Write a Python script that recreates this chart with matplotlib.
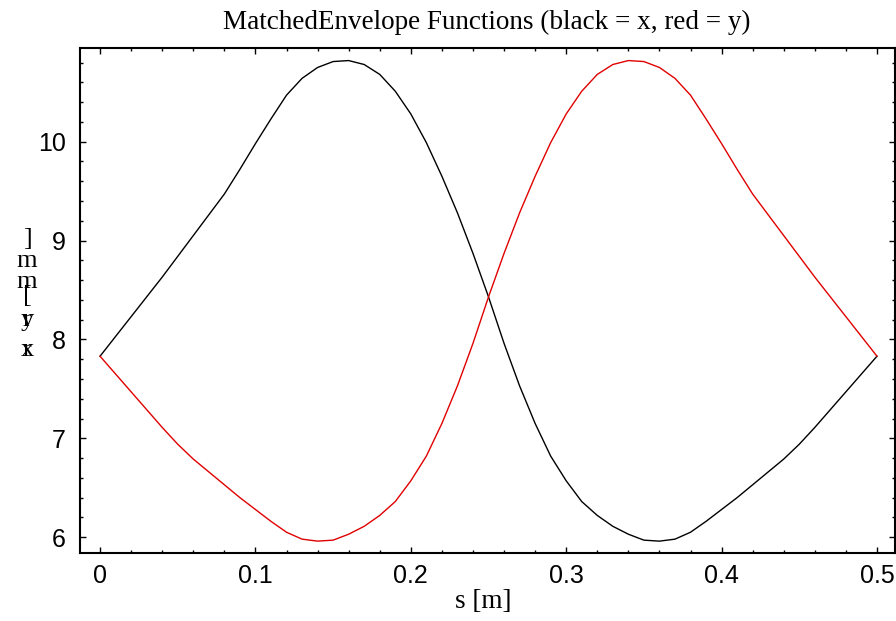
import matplotlib
matplotlib.use("Agg")
import matplotlib.pyplot as plt
from matplotlib.ticker import MultipleLocator

# data
s_vals = [0.00, 0.01, 0.02, 0.03, 0.04, 0.05, 0.06, 0.07, 0.08, 0.09,
          0.10, 0.11, 0.12, 0.13, 0.14, 0.15, 0.16, 0.17, 0.18, 0.19,
          0.20, 0.21, 0.22, 0.23, 0.24, 0.25, 0.26, 0.27, 0.28, 0.29,
          0.30, 0.31, 0.32, 0.33, 0.34, 0.35, 0.36, 0.37, 0.38, 0.39,
          0.40, 0.41, 0.42, 0.43, 0.44, 0.45, 0.46, 0.47, 0.48, 0.49, 0.50]
rx_vals = [7.83, 8.03, 8.23, 8.43, 8.63, 8.84, 9.05, 9.26, 9.47, 9.72,
           9.98, 10.23, 10.47, 10.64, 10.75, 10.81, 10.82, 10.78, 10.68, 10.51,
           10.28, 9.99, 9.65, 9.28, 8.87, 8.43, 7.96, 7.53, 7.15, 6.82,
           6.57, 6.36, 6.22, 6.11, 6.03, 5.97, 5.96, 5.98, 6.05, 6.16,
           6.28, 6.40, 6.53, 6.66, 6.79, 6.94, 7.11, 7.29, 7.47, 7.65, 7.83]
ry_vals = [7.83, 7.65, 7.47, 7.29, 7.11, 6.94, 6.79, 6.66, 6.53, 6.40,
           6.28, 6.16, 6.05, 5.98, 5.96, 5.97, 6.03, 6.11, 6.22, 6.36,
           6.57, 6.82, 7.15, 7.53, 7.96, 8.43, 8.87, 9.28, 9.65, 9.99,
           10.28, 10.51, 10.68, 10.78, 10.82, 10.81, 10.75, 10.64, 10.47, 10.23,
           9.98, 9.72, 9.47, 9.26, 9.05, 8.84, 8.63, 8.43, 8.23, 8.03, 7.83]
x_ticks = [0, 0.1, 0.2, 0.3, 0.4, 0.5]
x_ticklabels = ["0", "0.1", "0.2", "0.3", "0.4", "0.5"]
y_ticks = [6, 7, 8, 9, 10]
y_ticklabels = ["6", "7", "8", "9", "10"]
title = "MatchedEnvelope Functions (black = x, red = y)"
xlabel = "s [m]"

W, H = 896, 621
fig = plt.figure(figsize=(W / 100, H / 100), dpi=100)
ax = fig.add_axes([80 / W, 1 - 553 / H, (895 - 80) / W, (553 - 48) / H])

ax.plot(s_vals, rx_vals, color="black", lw=1.0)
ax.plot(s_vals, ry_vals, color="#e00000", lw=1.0)

ax.set_xlim(-0.0129, 0.5116)
ax.set_ylim(5.84, 10.947)

ax.set_xticks(x_ticks)
ax.set_xticklabels(x_ticklabels)
ax.set_yticks(y_ticks)
ax.set_yticklabels(y_ticklabels)
ax.xaxis.set_minor_locator(MultipleLocator(0.02))
ax.yaxis.set_minor_locator(MultipleLocator(0.2))
ax.tick_params(which="both", direction="in", top=True, right=True,
               labeltop=False, labelright=False, width=1.0, color="black")
ax.tick_params(which="major", length=4.5)
ax.tick_params(which="minor", length=2.5)
ax.tick_params(axis="x", which="major", pad=8, labelsize=18)
ax.tick_params(axis="y", which="major", pad=10, labelsize=18)
for lab in ax.get_xticklabels() + ax.get_yticklabels():
    lab.set_fontfamily("Liberation Sans")
for sp in ax.spines.values():
    sp.set_linewidth(1.5)

fig.text(487 / W, 1 - 22 / H, title, ha="center", va="center",
         fontsize=19.5, family="Liberation Serif")
fig.text(483 / W, 1 - 602 / H, xlabel, ha="center", va="center",
         fontsize=19.5, family="Liberation Serif")

# garbled vertical axis label as in the reference
ylab_chars = [("]", 239), ("m", 261), ("m", 282), ("[", 296),
              ("r", 320), ("y", 320), ("r", 350), ("x", 350)]
for ch, yp in ylab_chars:
    fig.text(27 / W, 1 - yp / H, ch, ha="center", va="center",
             fontsize=19, family="Liberation Serif")

fig.savefig("out.png", dpi=100)
